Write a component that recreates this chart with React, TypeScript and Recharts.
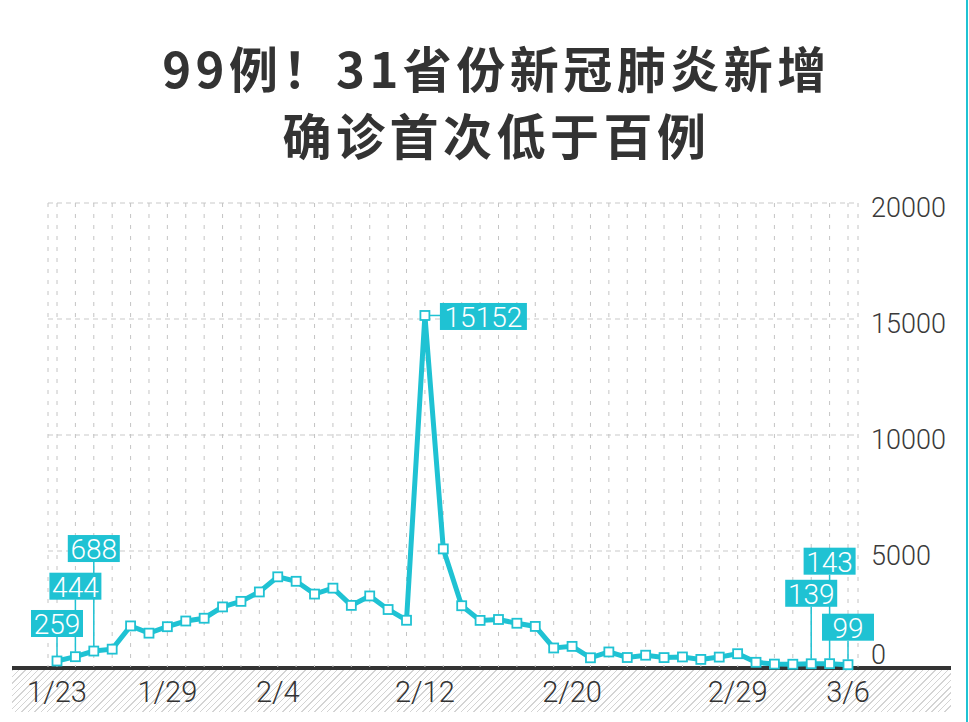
import React from 'react';
import { LineChart, Line, XAxis, YAxis, CartesianGrid, LabelList } from 'recharts';

// ---------- data ----------
const dates = [
  '1/23', '1/24', '1/25', '1/26', '1/27', '1/28', '1/29', '1/30', '1/31',
  '2/1', '2/2', '2/3', '2/4', '2/5', '2/6', '2/7', '2/8', '2/9', '2/10',
  '2/11', '2/12', '2/13', '2/14', '2/15', '2/16', '2/17', '2/18', '2/19', '2/20',
  '2/21', '2/22', '2/23', '2/24', '2/25', '2/26', '2/27', '2/28', '2/29',
  '3/1', '3/2', '3/3', '3/4', '3/5', '3/6',
];
const newCases = [
  259, 444, 688, 769, 1771, 1459, 1737, 1982, 2102,
  2590, 2829, 3235, 3887, 3694, 3143, 3399, 2656, 3062, 2478,
  2015, 15152, 5090, 2641, 2009, 2048, 1886, 1749, 820, 889,
  397, 648, 409, 508, 406, 433, 327, 427, 573,
  202, 125, 119, 139, 143, 99,
];
const xTickLabels = ['1/23', '1/29', '2/4', '2/12', '2/20', '2/29', '3/6'];
const yTicks = [0, 5000, 10000, 15000, 20000];
const calloutDates = ['1/23', '1/24', '1/25', '2/12', '3/4', '3/5', '3/6'];
const titleLines = ['99例！31省份新冠肺炎新增', '确诊首次低于百例'];

const chartData = dates.map((d, i) => ({ date: d, value: newCases[i] }));

// ---------- styling / layout ----------
const CYAN = '#1fc2d3';
const NUM_FONT = 'Roboto, "Liberation Sans", sans-serif';
const CALLOUT_LAYOUT: Record<string, { tier?: number; side?: 'right' }> = {
  '1/23': { tier: 1 },
  '1/24': { tier: 2 },
  '1/25': { tier: 3 },
  '2/12': { side: 'right' },
  '3/4': { tier: 2 },
  '3/5': { tier: 3 },
  '3/6': { tier: 1 },
};
const TIER_GAP: Record<number, number> = { 1: 24, 2: 57, 3: 89 };
const BOX_H = 27;

function pointXY(props: any) {
  const vb = props.viewBox || {};
  const x = typeof props.x === 'number' ? props.x : vb.x;
  const y = typeof props.y === 'number' ? props.y : vb.y;
  return { x, y };
}

function boxWidth(text: string) {
  return text.length <= 3 ? 52 : Math.round(text.length * 15.6 + 9);
}

const LeaderContent = (props: any) => {
  const date = dates[props.index];
  if (!calloutDates.includes(date)) return null;
  const cfg = CALLOUT_LAYOUT[date];
  const { x, y } = pointXY(props);
  if (cfg.side === 'right') {
    return <line x1={x + 5} y1={y} x2={x + 16} y2={y} stroke={CYAN} strokeWidth={1.5} />;
  }
  const bottom = y - TIER_GAP[cfg.tier || 1];
  return <line x1={x} y1={bottom} x2={x} y2={y - 5} stroke={CYAN} strokeWidth={1.5} />;
};

const BoxContent = (props: any) => {
  const date = dates[props.index];
  if (!calloutDates.includes(date)) return null;
  const cfg = CALLOUT_LAYOUT[date];
  const { x, y } = pointXY(props);
  const text = String(newCases[props.index]);
  const w = boxWidth(text);
  let bx: number;
  let by: number;
  if (cfg.side === 'right') {
    bx = x + 15;
    by = y - BOX_H / 2 + 1;
  } else {
    bx = x - w / 2;
    by = y - TIER_GAP[cfg.tier || 1] - BOX_H;
  }
  return (
    <g>
      <rect x={bx} y={by} width={w} height={BOX_H} fill={CYAN} />
      <text
        x={bx + w / 2}
        y={by + BOX_H / 2 + 1}
        textAnchor="middle"
        dominantBaseline="central"
        fill="#ffffff"
        fontSize={28}
        fontFamily={NUM_FONT}
        fontWeight={300}
      >
        {text}
      </text>
    </g>
  );
};

const renderDot = (props: any) => {
  const { cx, cy, index } = props;
  return (
    <rect
      key={`dot-${index}`}
      x={cx - 4.5}
      y={cy - 4.5}
      width={9}
      height={9}
      fill="#ffffff"
      stroke={CYAN}
      strokeWidth={1.8}
    />
  );
};

const XTick = (props: any) => {
  const { x, payload } = props;
  if (!xTickLabels.includes(payload.value)) return <g />;
  return (
    <text
      x={x}
      y={692}
      textAnchor="middle"
      dominantBaseline="central"
      fontSize={29}
      fill="#333333"
      fontFamily={NUM_FONT}
      fontWeight={300}
    >
      {payload.value}
    </text>
  );
};

const YTick = (props: any) => {
  const { y, payload } = props;
  const dy = payload.value === 0 ? -12.5 : 4.5;
  return (
    <text
      x={871}
      y={y + dy}
      textAnchor="start"
      dominantBaseline="central"
      fontSize={27}
      fill="#3a3a3a"
      fontFamily={NUM_FONT}
      fontWeight={300}
    >
      {payload.value}
    </text>
  );
};

export default function App() {
  return (
    <div
      style={{
        position: 'absolute',
        left: 0,
        top: 0,
        width: 969,
        height: 722,
        background: '#ffffff',
        overflow: 'hidden',
      }}
    >
      {/* hatched band under the axis */}
      <div
        style={{
          position: 'absolute',
          left: 12,
          top: 666,
          width: 939,
          height: 46,
          borderTop: '4px solid #333333',
          boxSizing: 'border-box',
          backgroundImage:
            'repeating-linear-gradient(135deg, #d4d4d4 0px, #d4d4d4 1px, transparent 1px, transparent 4.5px)',
        }}
      />
      {/* title */}
      <div
        style={{
          position: 'absolute',
          left: 12,
          top: 33,
          width: 969,
          textAlign: 'center',
          fontFamily: '"Noto Sans CJK SC", sans-serif',
          fontWeight: 700,
          fontSize: 49,
          letterSpacing: 4.5,
          lineHeight: '67px',
          color: '#333333',
        }}
      >
        {titleLines.map((t) => (
          <div key={t}>{t}</div>
        ))}
      </div>
      <div style={{ position: 'absolute', left: 0, top: 0 }}>
        <LineChart
          width={969}
          height={722}
          data={chartData}
          margin={{ top: 203, right: 11, bottom: 5, left: 48 }}
        >
          <CartesianGrid
            vertical={false}
            horizontalValues={[5000, 10000, 15000, 20000]}
            stroke="#c9c9c9"
            strokeDasharray="5 4"
          />
          <CartesianGrid horizontal={false} stroke="#c4c4c4" strokeDasharray="4 7" />
          <XAxis
            dataKey="date"
            scale="point"
            interval={0}
            padding={{ left: 9, right: 10 }}
            axisLine={false}
            tickLine={false}
            tick={XTick}
            height={50}
          />
          <YAxis
            orientation="right"
            type="number"
            domain={[0, 20000]}
            ticks={yTicks}
            width={100}
            axisLine={false}
            tickLine={false}
            tick={YTick}
          />
          <Line
            type="linear"
            dataKey="value"
            stroke={CYAN}
            strokeWidth={5}
            dot={renderDot}
            activeDot={false}
            isAnimationActive={false}
          >
            <LabelList dataKey="value" content={LeaderContent} />
            <LabelList dataKey="value" content={BoxContent} />
          </Line>
        </LineChart>
      </div>
      {/* right edge accent */}
      <div
        style={{
          position: 'absolute',
          left: 966,
          top: 0,
          width: 2,
          height: 722,
          background: CYAN,
        }}
      />
    </div>
  );
}
